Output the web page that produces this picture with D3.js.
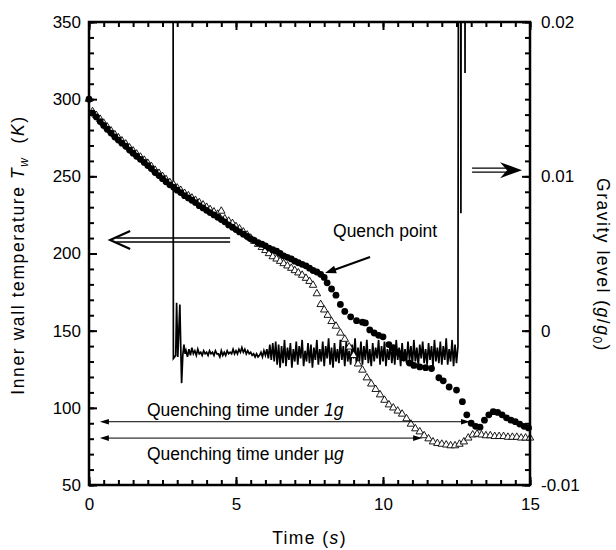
<!DOCTYPE html>
<html>
<head>
<meta charset="utf-8">
<script src="https://cdn.jsdelivr.net/npm/d3@7"></script>
<style>
  body { margin: 0; background: #fff; }
  text { font-family: Arial, "Liberation Sans", sans-serif; fill: #000; }
</style>
</head>
<body>
<div id="chart"></div>
<script>
// Data
// -------------------------------------------------------------------------------
// wall temperature under 1g (filled circles): [time s, T K]
var oneG = [
  [0, 300], [0.12, 291], [0.25, 288.5], [0.38, 285.5], [0.5, 283], [0.62, 280.5], [0.75, 278], [0.88, 275.5],
  [1.0, 273.5], [1.12, 271.5], [1.25, 269.5], [1.38, 267], [1.5, 265], [1.62, 263], [1.75, 261], [1.88, 259],
  [2.0, 257], [2.12, 255], [2.25, 252.5], [2.38, 250.5], [2.5, 248.5], [2.62, 246.5], [2.75, 244.5], [2.88, 243],
  [3.0, 241], [3.12, 239.5], [3.25, 237.5], [3.38, 236], [3.5, 234.5], [3.62, 233], [3.75, 231], [3.88, 229.5],
  [4.0, 228], [4.12, 226.5], [4.25, 225], [4.38, 223.5], [4.5, 222], [4.62, 220.5], [4.75, 218.5], [4.88, 217],
  [5.0, 215.5], [5.12, 214], [5.25, 212.5], [5.38, 211], [5.5, 209.5], [5.62, 208.5], [5.75, 207], [5.88, 206],
  [6.0, 205], [6.12, 203.5], [6.25, 202.5], [6.38, 201.5], [6.5, 200], [6.62, 198.5], [6.75, 197.5], [6.88, 196.5],
  [7.0, 195], [7.12, 194], [7.25, 193], [7.38, 192], [7.5, 190.5], [7.62, 189], [7.75, 188], [7.88, 186.5],
  [8.0, 184.5], [8.1, 181], [8.25, 177], [8.4, 173], [8.55, 167], [8.7, 162.5], [8.9, 159], [9.1, 156.5],
  [9.3, 155.5], [9.4, 155], [9.55, 150.5], [9.7, 148.5], [9.85, 147], [10.0, 146], [10.2, 141], [10.35, 139],
  [10.5, 136], [10.7, 132.5], [10.9, 129], [11.05, 127.5], [11.25, 126.5], [11.45, 126], [11.65, 125.5],
  [11.9, 119.5], [12.05, 117.5], [12.25, 113.5], [12.5, 111.5], [12.7, 104], [12.85, 95.5], [13.0, 90],
  [13.15, 88], [13.3, 87.5], [13.45, 92], [13.6, 95.5], [13.75, 97.5], [13.9, 97], [14.05, 95.5], [14.2, 93.5],
  [14.35, 92], [14.5, 91], [14.65, 89.5], [14.8, 88], [14.95, 87]
];

// wall temperature under microgravity (open triangles): [time s, T K]
var microG = [
  [0, 300], [0.12, 292], [0.25, 289.5], [0.38, 287], [0.5, 284.5], [0.62, 282], [0.75, 279.5], [0.88, 277],
  [1.0, 275], [1.12, 273], [1.25, 271], [1.38, 268.5], [1.5, 266.5], [1.62, 264.5], [1.75, 262.5], [1.88, 260.5],
  [2.0, 258.5], [2.12, 256.5], [2.25, 254], [2.38, 252], [2.5, 250], [2.62, 248], [2.75, 246], [2.88, 244.5],
  [3.0, 242.5], [3.12, 241], [3.25, 239], [3.38, 237.5], [3.5, 236], [3.62, 234.5], [3.75, 233], [3.88, 231.5],
  [4.0, 230], [4.12, 228.5], [4.25, 227], [4.38, 225.5], [4.5, 227.5], [4.62, 222.5], [4.75, 221], [4.88, 219.5],
  [5.0, 217.5], [5.12, 216], [5.25, 214], [5.38, 212], [5.5, 210], [5.62, 208], [5.75, 206], [5.88, 204],
  [6.0, 202], [6.12, 200], [6.25, 198], [6.38, 196.5], [6.5, 195], [6.62, 193.5], [6.75, 192], [6.88, 190.5],
  [7.0, 189], [7.12, 187.5], [7.25, 186], [7.38, 184], [7.5, 182], [7.62, 179.5], [7.75, 174], [7.88, 167],
  [8.0, 163.5], [8.12, 160], [8.25, 156], [8.4, 153], [8.55, 148.5], [8.7, 144.5], [8.85, 139.5], [9.0, 134],
  [9.15, 128.5], [9.3, 124.5], [9.45, 119.5], [9.6, 115.5], [9.75, 112], [9.9, 108.5], [10.05, 105], [10.2, 102],
  [10.35, 100], [10.5, 98], [10.65, 96], [10.8, 93], [10.95, 89.5], [11.1, 86.5], [11.25, 84.5], [11.4, 82],
  [11.55, 80], [11.7, 78], [11.85, 77], [12.0, 76.5], [12.15, 76], [12.3, 75.5], [12.45, 75.5], [12.6, 76.5],
  [12.75, 78], [12.9, 80.5], [13.05, 82.5], [13.2, 83], [13.35, 82.5], [13.5, 82], [13.65, 82], [13.8, 81.5],
  [13.95, 81.5], [14.1, 81.5], [14.25, 81], [14.4, 81], [14.55, 81], [14.7, 80.5], [14.85, 80.5], [15.0, 80.5]
];

// gravity level, in units of 1e-3 g/g0 (50 = off the top of the scale): [time s, g]
var gravity = [
  [0, 50], [2.85, 50], [2.87, -1.8], [2.95, -1.6], [2.98, 1.8], [3.02, -1.7], [3.09, 1.7], [3.12, -1.0],
  [3.15, -3.4], [3.19, -1.6], [3.23, -0.9], [3.27, -1.5],
  [3.30, -1.3], [3.35, -1.7], [3.40, -1.2], [3.45, -1.6], [3.50, -1.1], [3.55, -1.5], [3.60, -1.3], [3.65, -1.6],
  [3.70, -1.2], [3.75, -1.5], [3.80, -1.4], [3.85, -1.6], [3.90, -1.3], [3.95, -1.5], [4.00, -1.4], [4.05, -1.6],
  [4.10, -1.3], [4.15, -1.5], [4.20, -1.4], [4.25, -1.6], [4.30, -1.3], [4.35, -1.5], [4.40, -1.5], [4.45, -1.7],
  [4.50, -1.3], [4.55, -1.6], [4.60, -1.4], [4.65, -1.6], [4.70, -1.3], [4.75, -1.5], [4.80, -1.4], [4.85, -1.5],
  [4.90, -1.2], [4.95, -1.5], [5.00, -1.3], [5.05, -1.5], [5.10, -1.2], [5.15, -1.4], [5.20, -1.1], [5.25, -1.4],
  [5.30, -1.2], [5.35, -1.5], [5.40, -1.3], [5.45, -1.5], [5.50, -1.4], [5.55, -1.6], [5.60, -1.5], [5.65, -1.7],
  [5.70, -1.5], [5.75, -1.7], [5.80, -1.6], [5.85, -1.4], [5.90, -1.7], [5.95, -1.3], [6.00, -1.6], [6.05, -1.2],
  [6.10, -1.8], [6.15, -0.9], [6.20, -1.9], [6.25, -0.8], [6.30, -2.0],
  [6.35, -0.7], [6.40, -2.2], [6.45, -0.9], [6.50, -2.4], [6.55, -1.0], [6.60, -2.1], [6.65, -0.6], [6.70, -2.3],
  [6.75, -1.1], [6.80, -1.9], [6.85, -0.8], [6.90, -2.4], [6.95, -1.2], [7.00, -2.0], [7.05, -0.7], [7.10, -2.2],
  [7.15, -1.0], [7.20, -1.8], [7.25, -0.6], [7.30, -2.3], [7.35, -1.3], [7.40, -2.0], [7.45, -0.8], [7.50, -2.1],
  [7.55, -0.9], [7.60, -2.4], [7.65, -1.1], [7.70, -1.9], [7.75, -0.6], [7.80, -2.2], [7.85, -1.2], [7.90, -2.0],
  [7.95, -0.7], [8.00, -2.3], [8.05, -1.0], [8.10, -1.8], [8.15, -0.5], [8.20, -2.2], [8.25, -1.1], [8.30, -2.4],
  [8.35, -0.8], [8.40, -2.0], [8.45, -1.2], [8.50, -2.1], [8.55, -0.6], [8.60, -1.9], [8.65, -1.0], [8.70, -2.3],
  [8.75, -0.7], [8.80, -2.0], [8.85, -1.3], [8.90, -2.2], [8.95, -0.9], [9.00, -1.8], [9.05, -0.5], [9.10, -2.3],
  [9.15, -1.1], [9.20, -2.0], [9.25, -0.7], [9.30, -2.2], [9.35, -1.0], [9.40, -1.9], [9.45, -0.6], [9.50, -2.1],
  [9.55, -1.2], [9.60, -2.3], [9.65, -0.8], [9.70, -2.0], [9.75, -1.1], [9.80, -1.8], [9.85, -0.6], [9.90, -2.2],
  [9.95, -1.0], [10.00, -2.0], [10.05, -0.7], [10.10, -2.3], [10.15, -1.2], [10.20, -1.9], [10.25, -0.8], [10.30, -2.1],
  [10.35, -1.0], [10.40, -2.2], [10.45, -0.6], [10.50, -1.9], [10.55, -1.1], [10.60, -2.3], [10.65, -0.8], [10.70, -2.0],
  [10.75, -1.2], [10.80, -2.1], [10.85, -0.7], [10.90, -1.9], [10.95, -1.0], [11.00, -2.2], [11.05, -0.6], [11.10, -2.0],
  [11.15, -1.1], [11.20, -2.3], [11.25, -0.9], [11.30, -1.8], [11.35, -0.7], [11.40, -2.1], [11.45, -1.2], [11.50, -2.2],
  [11.55, -0.8], [11.60, -1.9], [11.65, -1.0], [11.70, -2.3], [11.75, -0.6], [11.80, -2.0], [11.85, -1.1], [11.90, -2.1],
  [11.95, -0.7], [12.00, -2.2], [12.05, -1.0], [12.10, -1.9], [12.15, -0.5], [12.20, -2.2], [12.25, -1.2], [12.30, -2.0],
  [12.35, -0.6], [12.40, -2.3], [12.45, -0.9], [12.50, -2.1], [12.55, -1.0],
  [12.58, 50], [12.63, 50], [12.65, 7.6], [12.67, 50], [12.77, 50], [12.79, 16.7], [12.81, 50], [15, 50]
];

// axis ticks and labels
var timeTicks = [0, 5, 10, 15];
var tempTicks = [50, 100, 150, 200, 250, 300, 350];
var gravTicks = [-10, 0, 10, 20];
var gravTickLabels = ["-0.01", "0", "0.01", "0.02"];

// annotation anchors (data coordinates)
var quenchPoint = [8.03, 187.3];       // arrow tip
var quenchArrowTail = [9.56, 197.7];
var quenchLabel = [8.3, 210.7];
var quenchTime1g = [0.37, 12.96, 91];  // t start, t end, T
var quenchTimeUg = [0.37, 11.33, 80.4];

// SVG
// -------------------------------------------------------------------------------
var svgWidth = 616;
var svgHeight = 550;

var margin = { top: 22, right: 86, bottom: 65, left: 89 };

var width = svgWidth - margin.left - margin.right;
var height = svgHeight - margin.top - margin.bottom;

var svg = d3.select("#chart")
  .append("svg")
  .attr("width", svgWidth)
  .attr("height", svgHeight);

var chartGroup = svg.append("g")
  .attr("transform", `translate(${margin.left}, ${margin.top})`);

var xScale = d3.scaleLinear().domain([0, 15]).range([0, width]);
var yScale = d3.scaleLinear().domain([50, 350]).range([height, 0]);
var gScale = d3.scaleLinear().domain([-10, 20]).range([height, 0]);

// axes: ticks point inward, minor ticks as separate axes
function drawAxis(axis, tx, ty) {
  var g = chartGroup.append("g")
    .attr("transform", `translate(${tx}, ${ty})`)
    .call(axis);
  g.select(".domain").remove();
  g.selectAll("line").attr("stroke", "#000").attr("stroke-width", 2);
  g.selectAll("text").style("font-size", "17px").attr("fill", "#000");
  return g;
}

drawAxis(d3.axisBottom(xScale).tickValues(timeTicks).tickSize(-8).tickPadding(13).tickFormat(d3.format("d")), 0, height);
drawAxis(d3.axisBottom(xScale).tickValues(d3.range(0, 15.01, 0.5)).tickSize(-5).tickFormat(""), 0, height);
drawAxis(d3.axisTop(xScale).tickValues(timeTicks).tickSize(-8).tickFormat(""), 0, 0);
drawAxis(d3.axisTop(xScale).tickValues(d3.range(0, 15.01, 0.5)).tickSize(-5).tickFormat(""), 0, 0);

drawAxis(d3.axisLeft(yScale).tickValues(tempTicks).tickSize(-8).tickPadding(8), 0, 0);
drawAxis(d3.axisLeft(yScale).tickValues(d3.range(50, 351, 10)).tickSize(-5).tickFormat(""), 0, 0);

drawAxis(d3.axisRight(gScale).tickValues(gravTicks).tickSize(-8).tickPadding(11)
  .tickFormat((d, i) => gravTickLabels[i]), width, 0);
drawAxis(d3.axisRight(gScale).tickValues(d3.range(-10, 20.1, 1)).tickSize(-5).tickFormat(""), width, 0);

// gravity trace, clipped to the frame
chartGroup.append("clipPath").attr("id", "clip")
  .append("rect").attr("width", width).attr("height", height);

var gravLine = d3.line()
  .x(d => xScale(d[0]))
  .y(d => gScale(d[1]));

chartGroup.append("path")
  .datum(gravity)
  .attr("clip-path", "url(#clip)")
  .attr("d", gravLine)
  .attr("fill", "none")
  .attr("stroke", "#000")
  .attr("stroke-width", 1.7)
  .attr("stroke-linejoin", "miter");

// microgravity triangles
chartGroup.append("g")
  .selectAll("path")
  .data(microG)
  .enter()
  .append("path")
  .attr("d", d3.symbol(d3.symbolTriangle, 24))
  .attr("transform", d => `translate(${xScale(d[0])}, ${yScale(d[1])})`)
  .attr("fill", "#fff")
  .attr("stroke", "#000")
  .attr("stroke-width", 0.9);

// 1g circles
chartGroup.append("g")
  .selectAll("circle")
  .data(oneG)
  .enter()
  .append("circle")
  .attr("cx", d => xScale(d[0]))
  .attr("cy", d => yScale(d[1]))
  .attr("r", 3.4)
  .attr("fill", "#000");

// frame
chartGroup.append("rect")
  .attr("width", width)
  .attr("height", height)
  .attr("fill", "none")
  .attr("stroke", "#000")
  .attr("stroke-width", 2.5);

// annotations
// -------------------------------------------------------------------------------
function arrowHead(x, y, dx, dy, len, half) {
  var n = Math.sqrt(dx * dx + dy * dy);
  var ux = dx / n, uy = dy / n;
  var bx = x - ux * len, by = y - uy * len;
  return `M${x},${y}L${bx - uy * half},${by + ux * half}L${bx + uy * half},${by - ux * half}Z`;
}

// double arrow pointing to the temperature axis
var la = { tip: xScale(0.72), end: xScale(4.8), y: yScale(208.7) };
chartGroup.append("path")
  .attr("d", `M${la.tip + 6},${la.y - 2}H${la.end}M${la.tip + 6},${la.y + 2}H${la.end}`)
  .attr("stroke", "#000").attr("stroke-width", 1.4).attr("fill", "none");
chartGroup.append("path")
  .attr("d", `M${la.tip + 20},${la.y - 9}L${la.tip},${la.y}L${la.tip + 20},${la.y + 9}`)
  .attr("stroke", "#000").attr("stroke-width", 2.2).attr("fill", "none");

// double arrow pointing to the gravity axis
var ra = { tip: xScale(14.73), start: xScale(13.03), y: gScale(10.4) };
chartGroup.append("path")
  .attr("d", `M${ra.start},${ra.y - 2}H${ra.tip - 14}M${ra.start},${ra.y + 2}H${ra.tip - 14}`)
  .attr("stroke", "#000").attr("stroke-width", 1.4).attr("fill", "none");
chartGroup.append("path")
  .attr("d", `M${ra.tip},${ra.y}L${ra.tip - 22},${ra.y - 8}L${ra.tip - 15},${ra.y}L${ra.tip - 22},${ra.y + 8}Z`)
  .attr("fill", "#000");

// quench point
var qx = xScale(quenchPoint[0]), qy = yScale(quenchPoint[1]);
var qtx = xScale(quenchArrowTail[0]), qty = yScale(quenchArrowTail[1]);
chartGroup.append("line")
  .attr("x1", qtx).attr("y1", qty)
  .attr("x2", qx + (qtx - qx) * 0.15).attr("y2", qy + (qty - qy) * 0.15)
  .attr("stroke", "#000").attr("stroke-width", 2);
chartGroup.append("path")
  .attr("d", arrowHead(qx, qy, qx - qtx, qy - qty, 11, 4))
  .attr("fill", "#000");
chartGroup.append("text")
  .attr("x", xScale(quenchLabel[0]))
  .attr("y", yScale(quenchLabel[1]))
  .style("font-size", "17.5px")
  .text("Quench point");

// quenching time arrows
[quenchTime1g, quenchTimeUg].forEach(function (q) {
  var x1 = xScale(q[0]), x2 = xScale(q[1]), yy = yScale(q[2]);
  chartGroup.append("line")
    .attr("x1", x1 + 4).attr("x2", x2 - 4)
    .attr("y1", yy).attr("y2", yy)
    .attr("stroke", "#000").attr("stroke-width", 1);
  chartGroup.append("path").attr("d", arrowHead(x1, yy, -1, 0, 9, 2.8)).attr("fill", "#000");
  chartGroup.append("path").attr("d", arrowHead(x2, yy, 1, 0, 9, 2.8)).attr("fill", "#000");
});

var t1 = chartGroup.append("text")
  .attr("x", xScale(1.97)).attr("y", yScale(95))
  .style("font-size", "17.5px");
t1.append("tspan").text("Quenching time under ");
t1.append("tspan").style("font-style", "italic").text("1g");

var t2 = chartGroup.append("text")
  .attr("x", xScale(1.97)).attr("y", yScale(66.5))
  .style("font-size", "17.5px");
t2.append("tspan").text("Quenching time under \u00b5");
t2.append("tspan").style("font-style", "italic").text("g");

// axis titles
// -------------------------------------------------------------------------------
var xTitle = svg.append("text")
  .attr("x", margin.left + width / 2)
  .attr("y", 544)
  .attr("text-anchor", "middle")
  .style("font-size", "17.5px")
  .style("letter-spacing", "1.4px");
xTitle.append("tspan").text("Time (");
xTitle.append("tspan").style("font-style", "italic").text("s");
xTitle.append("tspan").text(")");

var yTitle = svg.append("text")
  .attr("transform", "translate(24, 255) rotate(-90)")
  .attr("text-anchor", "middle")
  .style("font-size", "17.5px")
  .style("letter-spacing", "1.6px")
  .style("white-space", "pre");
yTitle.append("tspan").text("Inner wall temperature ");
yTitle.append("tspan").style("font-style", "italic").text("T");
yTitle.append("tspan").style("font-style", "italic").style("font-size", "12px").attr("dy", 4).text("w");
yTitle.append("tspan").attr("dy", -4).text("  (");
yTitle.append("tspan").style("font-style", "italic").text("K");
yTitle.append("tspan").text(")");

var gTitle = svg.append("text")
  .attr("transform", "translate(597, 265) rotate(90)")
  .attr("text-anchor", "middle")
  .style("font-size", "17.5px")
  .style("letter-spacing", "1.5px");
gTitle.append("tspan").text("Gravity level (");
gTitle.append("tspan").style("font-style", "italic").text("g");
gTitle.append("tspan").text("/");
gTitle.append("tspan").style("font-style", "italic").text("g");
gTitle.append("tspan").style("font-size", "12px").attr("dy", 4).text("0");
gTitle.append("tspan").attr("dy", -4).text(")");
</script>
</body>
</html>
